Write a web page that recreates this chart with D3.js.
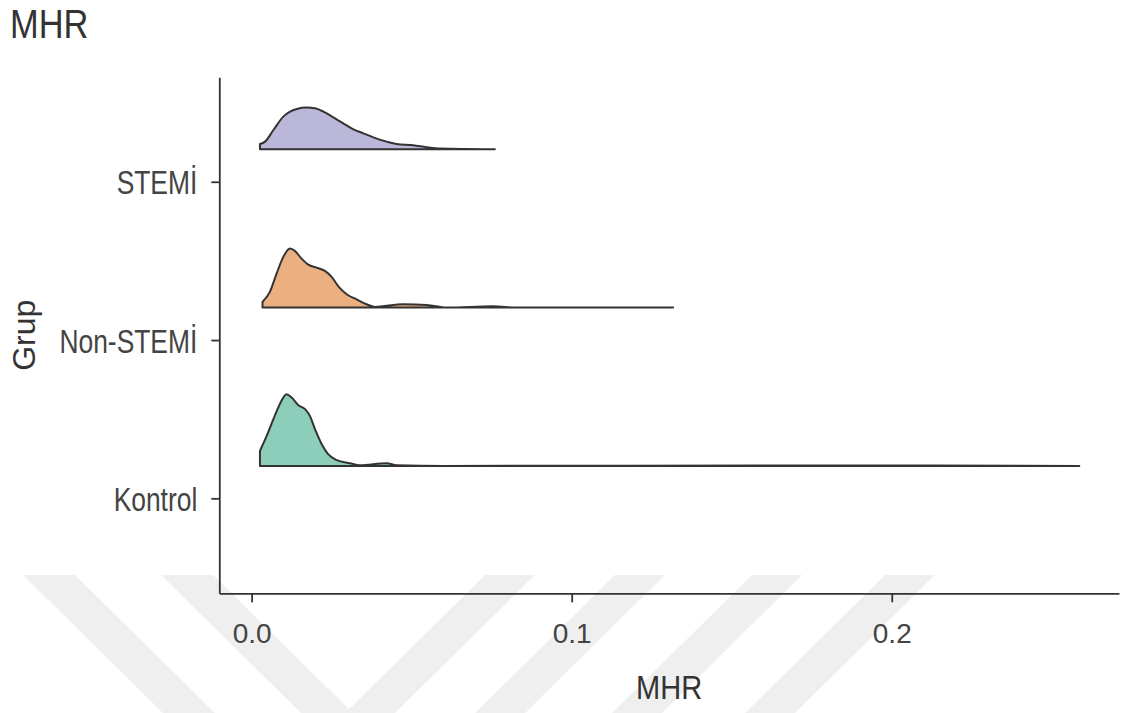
<!DOCTYPE html>
<html>
<head>
<meta charset="utf-8">
<script src="https://cdn.jsdelivr.net/npm/d3@7"></script>
<style>
body { margin: 0; background: #fff; }
svg { display: block; font-family: "Liberation Sans", Arial, sans-serif; }
</style>
</head>
<body>
<div id="chart"></div>
<script>
// groups, bottom to top
var groups = ["Kontrol", "Non-STEMİ", "STEMİ"];
var fills = ["#1b9e77", "#d95f02", "#7570b3"];
var xTicks = [0.0, 0.1, 0.2];

// density curves (MHR value, scaled density)
var kontrolMHR  = [0.0026, 0.0047, 0.0068, 0.0088, 0.0109, 0.0125, 0.0146, 0.0167, 0.0182, 0.0198, 0.0219, 0.0239, 0.0266, 0.0307, 0.0338, 0.0422, 0.0453, 0.0600, 0.1800, 0.2586];
var kontrolDens = [15, 30, 46.7, 61.7, 71.7, 68.3, 60.7, 56.7, 50, 36.7, 21.7, 11.7, 5.7, 2.7, 0.7, 2.7, 0.7, 0, 0.4, 0];

var nonstemiMHR  = [0.0034, 0.0057, 0.0078, 0.0099, 0.0120, 0.0135, 0.0156, 0.0177, 0.0203, 0.0229, 0.0250, 0.0271, 0.0297, 0.0328, 0.0359, 0.0385, 0.0474, 0.0547, 0.0609, 0.0755, 0.0828, 0.1317];
var nonstemiDens = [5.7, 15.7, 34, 50.7, 59, 56.7, 49, 43, 40, 36.7, 30.7, 21.3, 13.3, 8.3, 3.3, 0.7, 3.3, 2.7, 0, 1.3, 0, 0];

var stemiMHR  = [0.0026, 0.0042, 0.0068, 0.0099, 0.0120, 0.0141, 0.0172, 0.0198, 0.0224, 0.0255, 0.0286, 0.0318, 0.0349, 0.0380, 0.0422, 0.0453, 0.0505, 0.0547, 0.0588, 0.0760];
var stemiDens = [5.3, 7.7, 19.3, 32.7, 37.7, 40.3, 41.7, 41, 37.7, 32, 26, 20, 16, 12, 7.7, 5.3, 4, 2, 0.7, 0];

var series = [
	{mhr: kontrolMHR, dens: kontrolDens},
	{mhr: nonstemiMHR, dens: nonstemiDens},
	{mhr: stemiMHR, dens: stemiDens}
];

var W = 1121, H = 713;
var svg = d3.select("#chart").append("svg").attr("width", W).attr("height", H);

// light watermark stripes at the bottom of the image
var wm = svg.append("g").attr("fill", "#efefef");
[23, 161].forEach(function(x0) {
	wm.append("path").attr("d", "M" + x0 + ",575 L" + (x0 + 52) + ",575 L" + (x0 + 192) + ",713 L" + (x0 + 140) + ",713 Z");
});
[485, 615, 752, 885].forEach(function(x0) {
	wm.append("path").attr("d", "M" + x0 + ",575 L" + (x0 + 50) + ",575 L" + (x0 - 90) + ",713 L" + (x0 - 140) + ",713 Z");
});

var x = d3.scaleLinear().domain([-0.0101, 0.271]).range([219.3, 1119]);
var y = d3.scaleLinear().domain([0.4, 3.66]).range([593.3, 77.3]);
var maxDens = d3.max(series, function(s) { return d3.max(s.dens); });
var h = d3.scaleLinear().domain([0, maxDens]).range([0, 0.453]);
var offset = 0.205;

series.forEach(function(s, i) {
	var base = i + 1 + offset;
	var pts = s.mhr.map(function(m, j) { return [m, s.dens[j]]; });
	var area = d3.area()
		.curve(d3.curveMonotoneX)
		.x(function(d) { return x(d[0]); })
		.y0(y(base))
		.y1(function(d) { return y(base + h(d[1])); });
	svg.append("path")
		.datum(pts)
		.attr("d", area)
		.attr("fill", fills[i])
		.attr("fill-opacity", 0.5)
		.attr("stroke", "#333")
		.attr("stroke-width", 2)
		.attr("stroke-linejoin", "round");
});

// axes
var yAxis = svg.append("g")
	.attr("transform", "translate(" + x.range()[0] + ",0)")
	.call(d3.axisLeft(y).tickValues([1, 2, 3]).tickFormat(function(d) { return groups[d - 1]; }).tickSize(8).tickSizeOuter(0));
yAxis.selectAll("text")
	.attr("x", 0).attr("dy", null)
	.attr("transform", "translate(-22,12) scale(0.8,1)")
	.style("font-size", "33px").attr("fill", "#444");

var xAxis = svg.append("g")
	.attr("transform", "translate(0," + y.range()[0] + ")")
	.call(d3.axisBottom(x).tickValues(xTicks).tickFormat(d3.format(".1f")).tickSize(9).tickSizeOuter(0));
xAxis.selectAll("text")
	.attr("y", 0).attr("dy", null)
	.attr("transform", "translate(0,50)")
	.style("font-size", "28px").attr("fill", "#444");

svg.selectAll(".domain, .tick line").attr("stroke", "#333").attr("stroke-width", 1.8);
svg.selectAll(".tick text").attr("font-family", null);

// titles
svg.append("text")
	.attr("transform", "translate(10,37.5) scale(0.84,1)")
	.style("font-size", "41px").attr("fill", "#333")
	.text("MHR");

svg.append("text")
	.attr("text-anchor", "middle")
	.attr("transform", "translate(" + (x.range()[0] + x.range()[1]) / 2 + ",699) scale(0.88,1)")
	.style("font-size", "33px").attr("fill", "#333")
	.text("MHR");

svg.append("text")
	.attr("text-anchor", "middle")
	.attr("transform", "translate(35," + (y.range()[0] + y.range()[1]) / 2 + ") rotate(-90)")
	.style("font-size", "32px").attr("fill", "#333")
	.text("Grup");
</script>
</body>
</html>
